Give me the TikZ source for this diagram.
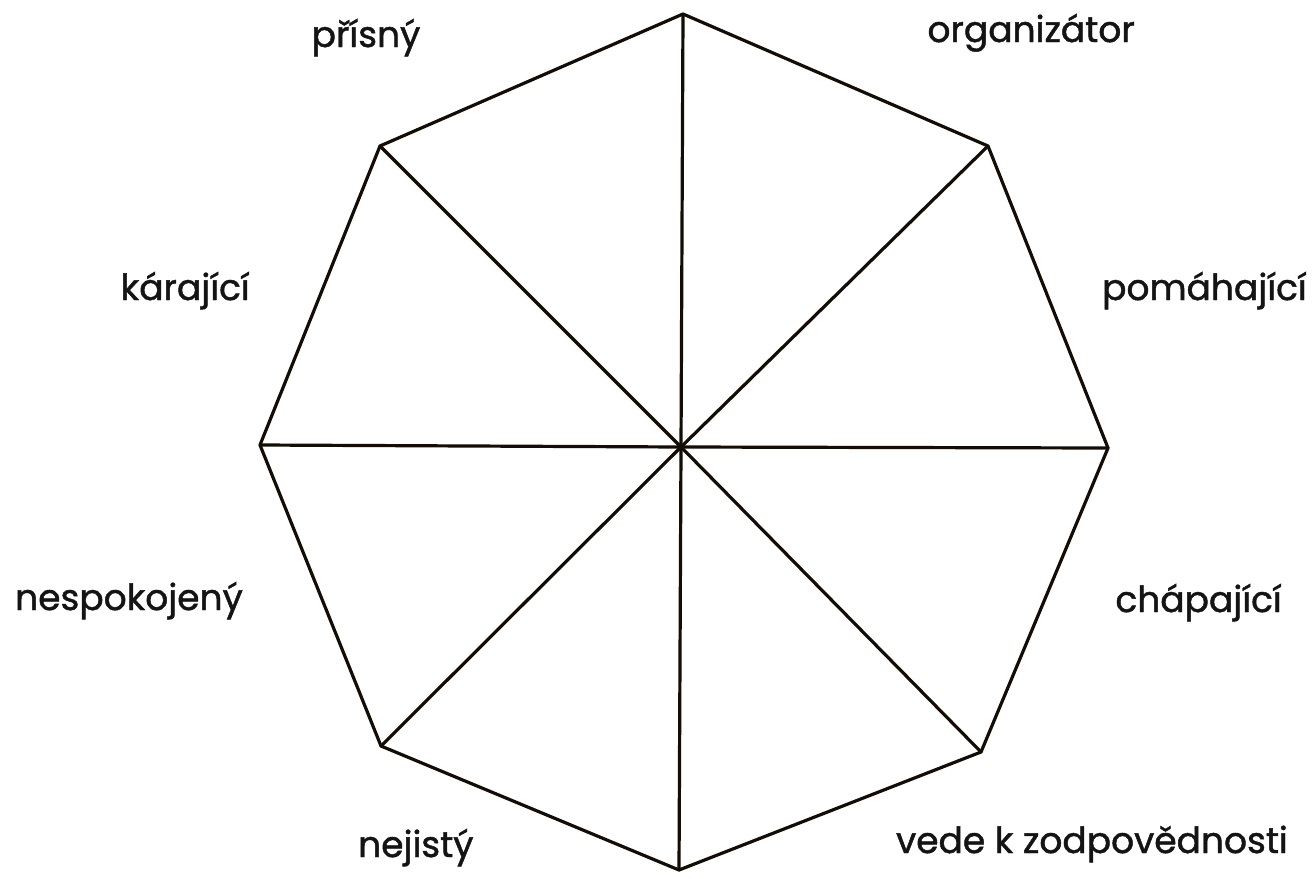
\documentclass[tikz,border=0pt]{standalone}
\usepackage{fontspec}
\setmainfont{Poppins}[FakeBold=1.3]
\begin{document}
\begin{tikzpicture}[x=1pt,y=-1pt,
  edge/.style={draw=black!90!brown, line width=3.2pt, line join=round, line cap=round},
  lbl/.style={inner sep=0pt, font=\fontsize{36}{42}\selectfont, text=black!92}]
\useasboundingbox (0,0) rectangle (1313,878);
\fill[white] (0,0) rectangle (1313,878);
\coordinate (c) at (681,447);
\coordinate (t) at (683,14);
\coordinate (tr) at (988,146);
\coordinate (r) at (1108,448);
\coordinate (br) at (981,752);
\coordinate (b) at (679,870);
\coordinate (bl) at (381,746);
\coordinate (l) at (260,445);
\coordinate (tl) at (380,146);
\draw[edge] (t) -- (tr) -- (r) -- (br) -- (b) -- (bl) -- (l) -- (tl) -- cycle;
\foreach \v in {t,tr,r,br,b,bl,l,tl} \draw[edge] (c) -- (\v);
\node[lbl, anchor=base] (n1) at (366,47) {přísný};
\node[lbl, anchor=base east] (n2) at (1135,42) {organizátor};
\node[lbl, anchor=base east] (n3) at (250,300) {kárající};
\node[lbl, anchor=base east] (n4) at (1307,300) {pomáhající};
\node[lbl, anchor=base west] (n5) at (15,610) {nespokojený};
\node[lbl, anchor=base east] (n6) at (1282,612) {chápající};
\node[lbl, anchor=base west] (n7) at (358,857) {nejistý};
\node[lbl, anchor=base east] (n8) at (1288,853) {vede k zodpovědnosti};
\end{tikzpicture}
\end{document}
